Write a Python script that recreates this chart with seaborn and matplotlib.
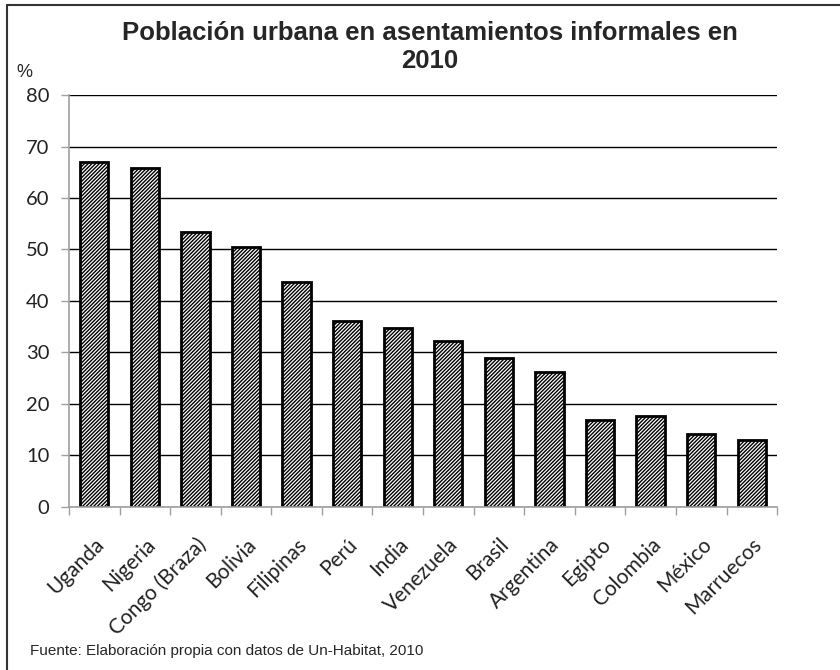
import numpy as np
import pandas as pd
import matplotlib
matplotlib.use("Agg")
import matplotlib.pyplot as plt
from matplotlib.lines import Line2D
import seaborn as sns

countries = ["Uganda", "Nigeria", "Congo (Braza)", "Bolivia", "Filipinas", "Perú", "India",
             "Venezuela", "Brasil", "Argentina", "Egipto", "Colombia", "México", "Marruecos"]
values = [67.0, 65.9, 53.4, 50.4, 43.6, 36.1, 34.8, 32.1, 28.9, 26.1, 16.9, 17.7, 14.2, 13.0]
yticks = [0, 10, 20, 30, 40, 50, 60, 70, 80]

title = "Población urbana en asentamientos informales en\n2010"
source = "Fuente: Elaboración propia con datos de Un-Habitat, 2010"

sns.set_style("white")
plt.rcParams["hatch.linewidth"] = 1.0
plt.rcParams["hatch.color"] = "black"

df = pd.DataFrame({"pais": countries, "valor": values})

fig = plt.figure(figsize=(8.4, 6.7), dpi=100)
ax = fig.add_axes([0.0821, 0.244, 0.843, 0.614])

sns.barplot(data=df, x="pais", y="valor", ax=ax, color="white", edgecolor="black",
            linewidth=2.0, hatch="/////////", width=0.56, saturation=1)

ax.set_xlim(-0.5, len(countries) - 0.5)
ax.set_ylim(0, 80)
ax.set_yticks(yticks)
ax.set_yticklabels([str(v) for v in yticks], fontsize=14.5, family="Lato", color="#222222")
ax.yaxis.grid(True, color="black", linewidth=1.0)
ax.set_axisbelow(True)
ax.tick_params(axis="y", which="major", length=6, width=1, color="#a0a0a0", left=True, pad=8)

ax.set_xticks(np.arange(len(countries)))
ax.set_xticklabels(countries, rotation=45, ha="right", rotation_mode="anchor",
                   fontsize=15, family="Lato", color="#222222")
ax.tick_params(axis="x", which="major", length=0, pad=20)
ax.set_xticks(np.arange(-0.5, len(countries), 1.0), minor=True)
ax.tick_params(axis="x", which="minor", length=6, width=1, color="#a0a0a0", bottom=True)

ax.set_xlabel("")
ax.set_ylabel("")
for s in ["top", "right"]:
    ax.spines[s].set_visible(False)
for s in ["left", "bottom"]:
    ax.spines[s].set_color("#a0a0a0")
    ax.spines[s].set_linewidth(1.2)

fig.text(0.512, 0.969, title, ha="center", va="top", fontsize=18.5, family="Liberation Sans",
         fontweight="bold", linespacing=1.2)
fig.text(0.02, 0.892, "%", ha="left", va="center", fontsize=13, family="Liberation Sans")
fig.text(0.036, 0.028, source, ha="left", va="center", fontsize=11, family="Liberation Sans")

fig.add_artist(Line2D([0.008, 1.0], [0.992, 0.992], transform=fig.transFigure, color="#333333", linewidth=1.5))
fig.add_artist(Line2D([0.008, 0.008], [0.0, 0.992], transform=fig.transFigure, color="#333333", linewidth=1.5))

fig.savefig("out.png", dpi=100, facecolor="white")
